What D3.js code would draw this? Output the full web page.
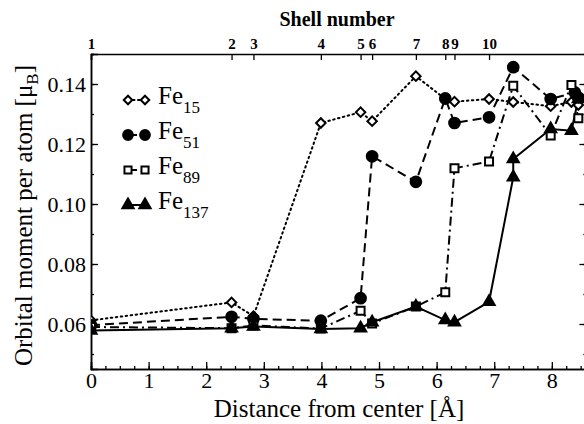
<!DOCTYPE html>
<html>
<head>
<meta charset="utf-8">
<script src="https://cdn.jsdelivr.net/npm/d3@7"></script>
<style>
  html, body { margin: 0; padding: 0; background: #fff; }
  svg { display: block; font-family: "Liberation Serif", "DejaVu Serif", serif; }
</style>
</head>
<body>
<div id="chart"></div>
<script>
// distances of the shells (Å), top axis labels are shell numbers 1..10
const shellDist = [0, 2.44, 2.82, 3.99, 4.68, 4.88, 5.64, 6.15, 6.31, 6.91];
const shellLabels = ['1', '2', '3', '4', '5', '6', '7', '8', '9', '10'];

// series: distance (Å) and orbital moment (μB)
const fe15X = [0, 2.44, 2.82, 3.99, 4.68, 4.88, 5.64, 6.15, 6.31, 6.91, 7.33, 7.98, 8.34, 8.46];
const fe15Y = [0.0612, 0.0672, 0.0626, 0.1270, 0.1306, 0.1276, 0.1426, 0.1350, 0.1341, 0.1350, 0.1340, 0.1326, 0.1340, 0.1330];

const fe51X = [0, 2.44, 2.82, 3.99, 4.68, 4.88, 5.64, 6.15, 6.31, 6.91, 7.33, 7.98, 8.40, 8.46];
const fe51Y = [0.0596, 0.0624, 0.0617, 0.0611, 0.0686, 0.1159, 0.1074, 0.1352, 0.1270, 0.1289, 0.1456, 0.1350, 0.1372, 0.1355];

const fe89X = [0, 2.44, 2.82, 3.99, 4.68, 4.88, 5.64, 6.15, 6.31, 6.91, 7.33, 7.98, 8.34, 8.46];
const fe89Y = [0.0590, 0.0586, 0.0595, 0.0585, 0.0644, 0.0602, 0.0658, 0.0706, 0.1119, 0.1142, 0.1394, 0.1228, 0.1397, 0.1286];

const fe137X = [0, 2.44, 2.82, 3.99, 4.68, 4.88, 5.64, 6.15, 6.31, 6.91, 7.33, 7.33, 7.98, 8.34, 8.46];
const fe137Y = [0.0578, 0.0586, 0.0592, 0.0583, 0.0586, 0.0606, 0.0658, 0.0613, 0.0606, 0.0674, 0.1089, 0.1150, 0.1250, 0.1244, 0.1350];

const seriesNames = ['15', '51', '89', '137'];

const xTicks = [0, 1, 2, 3, 4, 5, 6, 7, 8];
const yTicks = [0.06, 0.08, 0.10, 0.12, 0.14];

//____________________________________________________________
//
const width = 584, height = 424;
const margin = { left: 91, top: 54, bottom: 55 };
const serif = '"Liberation Serif", "DejaVu Serif", serif';

const x = d3.scaleLinear().domain([0, 8.6]).range([margin.left, 586.4]);
const y = d3.scaleLinear().domain([0.045, 0.15]).range([height - margin.bottom, margin.top]);

const svg = d3.select('#chart').append('svg')
    .attr('width', width)
    .attr('height', height);

svg.append('defs').append('clipPath').attr('id', 'plot')
    .append('rect')
    .attr('x', x(0)).attr('y', y(0.15))
    .attr('width', x(8.6) - x(0)).attr('height', y(0.045) - y(0.15));

// open diamond = square turned by 45 degrees
const series = [
    { name: seriesNames[0], xs: fe15X, ys: fe15Y, dash: '1.5,3.5', cap: 'round', symbol: d3.symbolSquare, rot: 45, size: 45, fill: '#fff', legendSize: 36 },
    { name: seriesNames[1], xs: fe51X, ys: fe51Y, dash: '9,5', cap: 'butt', symbol: d3.symbolCircle, rot: 0, size: 90, fill: '#000', legendSize: 75 },
    { name: seriesNames[2], xs: fe89X, ys: fe89Y, dash: '9,4,2,4', cap: 'butt', symbol: d3.symbolSquare, rot: 0, size: 64, fill: '#fff', legendSize: 50 },
    { name: seriesNames[3], xs: fe137X, ys: fe137Y, dash: null, cap: 'butt', symbol: d3.symbolTriangle, rot: 0, size: 55, fill: '#000', legendSize: 55 }
];

const line = d3.line().x(d => x(d[0])).y(d => y(d[1]));

//____________________________________________________________
// axes (ticks pointing inward)
const axBottom = svg.append('g').attr('transform', `translate(0,${y(0.045)})`);
axBottom.call(d3.axisBottom(x).tickValues(d3.range(0, 8.6, 0.25)).tickSize(-3).tickFormat(''));
axBottom.call(g => g.append('g').call(d3.axisBottom(x).tickValues(xTicks).tickSize(-7).tickPadding(3)
    .tickFormat(d3.format('d'))));
axBottom.selectAll('.domain').attr('stroke-width', 1.5);

const axLeft = svg.append('g').attr('transform', `translate(${x(0)},0)`);
axLeft.call(d3.axisLeft(y).tickValues(d3.range(0.05, 0.1501, 0.01)).tickSize(-3).tickFormat(''));
axLeft.call(g => g.append('g').call(d3.axisLeft(y).tickValues(yTicks).tickSize(-7).tickPadding(5)
    .tickFormat(d3.format('.2f'))));
axLeft.selectAll('.domain').attr('stroke-width', 1.5);

const axRight = svg.append('g').attr('transform', `translate(${x(8.6)},0)`);
axRight.call(d3.axisRight(y).tickValues(d3.range(0.05, 0.1501, 0.01)).tickSize(-3).tickFormat(''));
axRight.call(g => g.append('g').call(d3.axisRight(y).tickValues(yTicks).tickSize(-7).tickFormat('')));

const axTop = svg.append('g').attr('transform', `translate(0,${y(0.15)})`);
axTop.call(d3.axisTop(x).tickValues(shellDist).tickSize(-6).tickPadding(5)
    .tickFormat((d, i) => shellLabels[i]));
axTop.selectAll('.domain').attr('stroke-width', 1.5);
axTop.selectAll('text').attr('font-size', 15).attr('font-weight', 'bold')
    .attr('font-family', serif).attr('dy', 0);

svg.selectAll('.tick line').attr('stroke-width', 1.3);
axBottom.selectAll('text').attr('font-size', 22).attr('font-family', serif);
axLeft.selectAll('text').attr('font-size', 22).attr('font-family', serif);

//____________________________________________________________
// labels
svg.append('text')
    .attr('x', 337).attr('y', 26)
    .attr('text-anchor', 'middle')
    .attr('font-size', 20).attr('font-weight', 'bold')
    .text('Shell number');

svg.append('text')
    .attr('x', 339).attr('y', 417)
    .attr('text-anchor', 'middle')
    .attr('font-size', 25)
    .text('Distance from center [Å]');

const yl = svg.append('text')
    .attr('transform', `translate(32,${(y(0.045) + y(0.15)) / 2 + 4}) rotate(-90)`)
    .attr('text-anchor', 'middle')
    .attr('font-size', 25);
yl.append('tspan').text('Orbital moment per atom [μ');
yl.append('tspan').attr('font-size', 17).attr('dy', 6).text('B');
yl.append('tspan').attr('dy', -6).text(']');

//____________________________________________________________
// series
const plot = svg.append('g').attr('clip-path', 'url(#plot)');

series.forEach(s => {
    const pts = s.xs.map((d, i) => [d, s.ys[i]]);
    plot.append('path')
        .attr('d', line(pts))
        .attr('fill', 'none')
        .attr('stroke', '#000')
        .attr('stroke-width', 2)
        .attr('stroke-linecap', s.cap)
        .attr('stroke-dasharray', s.dash);
});

series.forEach(s => {
    const pts = s.xs.map((d, i) => [d, s.ys[i]]);
    plot.append('g').selectAll('path')
        .data(pts)
        .join('path')
        .attr('transform', d => `translate(${x(d[0])},${y(d[1])}) rotate(${s.rot})`)
        .attr('d', d3.symbol(s.symbol, s.size))
        .attr('fill', s.fill)
        .attr('stroke', '#000')
        .attr('stroke-width', 2);
});

//____________________________________________________________
// legend
const legend = svg.append('g');
series.forEach((s, i) => {
    const ly = 100 + i * 35;
    const g = legend.append('g').attr('transform', `translate(0,${ly})`);
    g.append('line')
        .attr('x1', 128).attr('x2', 145)
        .attr('stroke', '#000').attr('stroke-width', 2)
        .attr('stroke-dasharray', s.dash).attr('stroke-linecap', s.cap);
    [128, 145].forEach(lx => {
        g.append('path')
            .attr('transform', `translate(${lx},0) rotate(${s.rot})`)
            .attr('d', d3.symbol(s.symbol, s.legendSize))
            .attr('fill', s.fill).attr('stroke', '#000').attr('stroke-width', 2);
    });
    const t = g.append('text').attr('x', 158).attr('y', 4).attr('font-size', 25);
    t.append('tspan').text('Fe');
    t.append('tspan').attr('font-size', 17).attr('dy', 9).text(s.name);
});
</script>
</body>
</html>
